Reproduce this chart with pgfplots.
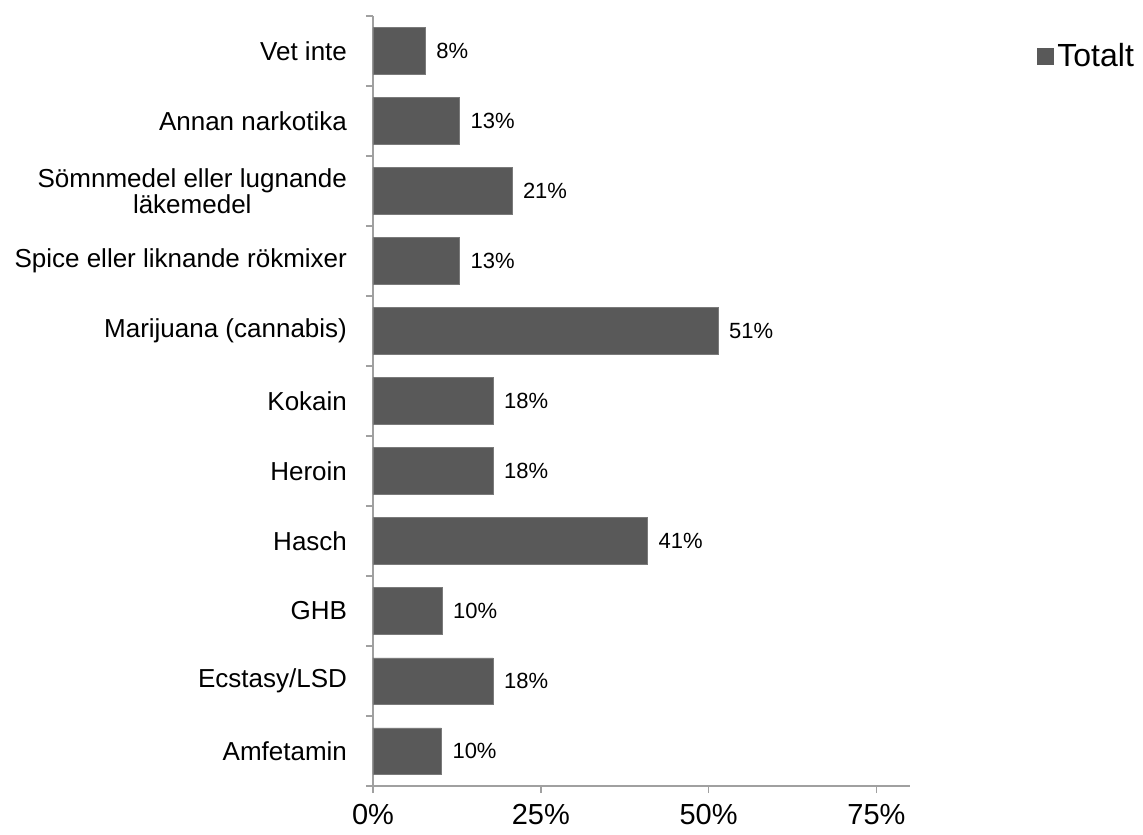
\documentclass[border=0pt]{standalone}
\usepackage{fontspec}
\setmainfont{Liberation Sans}
\usepackage{pgfplots}
\pgfplotsset{compat=1.18}
\definecolor{barc}{HTML}{595959}
\definecolor{axc}{HTML}{A0A0A0}
\begin{document}
\begin{tikzpicture}
\path[use as bounding box] (-186.5pt,-24pt) rectangle (385pt,393pt);
\begin{axis}[
  at={(0,0)}, anchor=south west,
  scale only axis, width=268.5pt, height=385pt,
  xbar, bar width=0.66,
  xmin=0, xmax=80, ymin=-0.5, ymax=10.5,
  axis x line*=bottom, axis y line*=left,
  axis line style={draw=axc, line width=0.8pt},
  xtick={0,25,50,75},
  xticklabel={\pgfmathprintnumber{\tick}\%},
  x tick label style={font=\fontsize{14.5}{16}\selectfont, yshift=-2pt},
  ytick={0,...,10},
  yticklabels={Amfetamin,Ecstasy/LSD,GHB,Hasch,Heroin,Kokain,Marijuana (cannabis),Spice eller liknande rökmixer,{Sömnmedel eller lugnande\\läkemedel},Annan narkotika,Vet inte},
  y tick label style={font=\fontsize{13}{11.5}\selectfont, align=center, xshift=-6pt},
  minor ytick={-0.5,0.5,...,10.5},
  tick align=outside,
  major tick length=3.5pt,
  minor tick length=3.5pt,
  major y tick style={draw=none},
  minor y tick style={draw=axc, line width=0.8pt},
  major x tick style={draw=axc, line width=0.8pt},
  /pgf/number format/assume math mode=true,
  nodes near coords={\pgfmathprintnumber[fixed,precision=0]{\pgfplotspointmeta}\%},
  nodes near coords style={font=\fontsize{11}{13}\selectfont, anchor=west, xshift=2pt, text=black},
  legend style={at={(1.235,0.947)}, anchor=west, draw=none, fill=none, font=\fontsize{16}{18}\selectfont, inner sep=0pt},
  legend image code/.code={\fill[barc] (0pt,-4pt) rectangle (8pt,4pt);},
]
\addplot[fill=barc, draw=barc!80!white] coordinates {
(10.2,0) (17.9,1) (10.3,2) (40.9,3) (17.9,4) (17.9,5) (51.4,6) (12.9,7) (20.7,8) (12.9,9) (7.8,10)
};
\legend{Totalt}
\end{axis}
\end{tikzpicture}
\end{document}
